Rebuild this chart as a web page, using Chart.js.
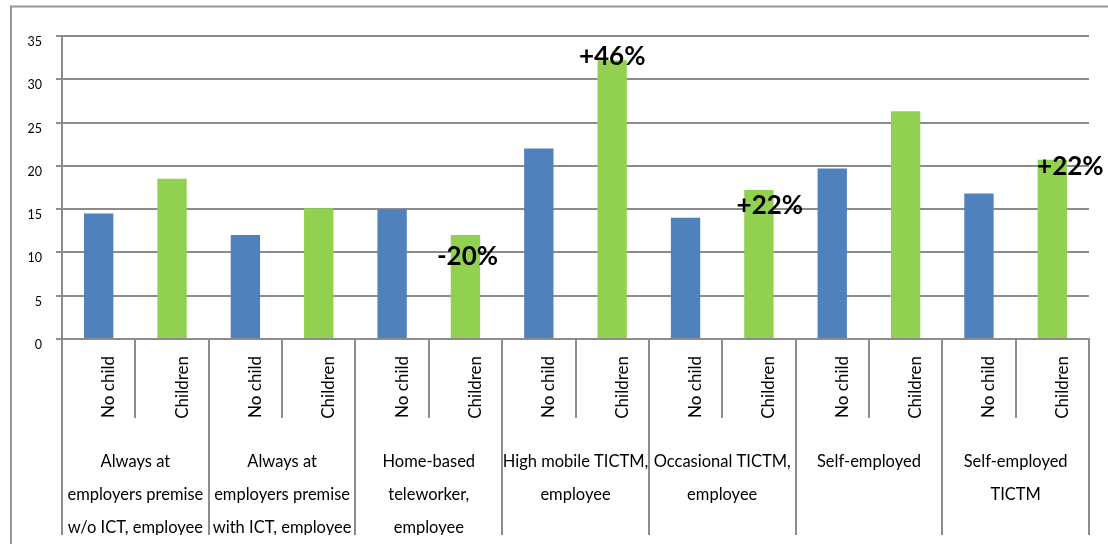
<!DOCTYPE html>
<html>
<head>
<meta charset="utf-8">
<script src="https://cdn.jsdelivr.net/npm/chart.js@4.4.1/dist/chart.umd.min.js"></script>
<style>
    html, body { margin: 0; padding: 0; background: #fff; }
    #chartContainer { width: 1108px; height: 544px; position: relative; }
</style>
</head>
<body>
<div id="chartContainer"><canvas id="myChart"></canvas></div>
<script>
// worker types, two bars each
const groupLabels = [
    ['Always at', 'employers premise', 'w/o ICT, employee'],
    ['Always at', 'employers premise', 'with ICT, employee'],
    ['Home-based', 'teleworker,', 'employee'],
    ['High mobile TICTM,', 'employee'],
    ['Occasional TICTM,', 'employee'],
    ['Self-employed'],
    ['Self-employed', 'TICTM']
];
const subLabels = [
    'No child', 'Children', 'No child', 'Children', 'No child', 'Children', 'No child',
    'Children', 'No child', 'Children', 'No child', 'Children', 'No child', 'Children'
];
const values = [14.5, 18.5, 12.0, 15.1, 15.0, 12.0, 22.0, 32.2, 14.0, 17.2, 19.7, 26.3, 16.8, 20.7];
const changeLabels = ['', '', '', '', '', '-20%', '', '+46%', '', '+22%', '', '', '', '+22%'];
const yTicks = [0, 5, 10, 15, 20, 25, 30, 35];

const blue = '#4f81bd';
const green = '#92d050';
const lineGrey = '#8c8c8c';
const fontFamily = 'Lato, "Open Sans", sans-serif';

// where each change label sits relative to the top of its bar
const labelShift = {
    5: [2, 21],
    7: [0, -4],
    9: [11, 16],
    13: [18, 7]
};

const outerFrame = {
    id: 'outerFrame',
    beforeDraw(chart) {
        const c = chart.ctx;
        c.save();
        c.strokeStyle = '#979797';
        c.lineWidth = 2;
        c.strokeRect(11, 6.5, chart.width + 20, chart.height + 20);
        c.restore();
    }
};

const changeText = {
    id: 'changeText',
    afterDatasetsDraw(chart) {
        const c = chart.ctx;
        const bars = chart.getDatasetMeta(0).data;
        c.save();
        c.font = 'bold 26px ' + fontFamily;
        c.fillStyle = '#000';
        c.textAlign = 'center';
        c.textBaseline = 'middle';
        changeLabels.forEach((txt, i) => {
            if (!txt) return;
            const shift = labelShift[i] || [0, 0];
            c.fillText(txt, bars[i].x + shift[0], bars[i].y + shift[1]);
        });
        c.restore();
    }
};

let myChart = null;

function createChart() {
    if (myChart !== null) {
        myChart.destroy();
    }

    const ctx = document.getElementById('myChart').getContext('2d');
    myChart = new Chart(ctx, {
        type: 'bar',
        data: {
            labels: subLabels,
            datasets: [{
                data: values,
                backgroundColor: values.map((v, i) => i % 2 === 0 ? blue : green),
                borderWidth: 0,
                barPercentage: 0.4,
                categoryPercentage: 1.0
            }]
        },
        options: {
            maintainAspectRatio: false,
            responsive: true,
            animation: false,
            devicePixelRatio: 1,
            layout: {
                padding: { left: 0, top: 36, right: 19, bottom: 9 }
            },
            plugins: {
                legend: { display: false },
                tooltip: { enabled: false }
            },
            scales: {
                y: {
                    min: 0,
                    max: 35,
                    afterBuildTicks: (scale) => {
                        scale.ticks = yTicks.map(v => ({ value: v }));
                    },
                    afterFit: (scale) => { scale.width = 62; },
                    grid: {
                        color: lineGrey,
                        lineWidth: 2,
                        tickLength: 6
                    },
                    border: { color: lineGrey, width: 2 },
                    ticks: {
                        color: '#000',
                        padding: 14,
                        labelOffset: 6,
                        font: { family: fontFamily, size: 12.5 }
                    }
                },
                x: {
                    weight: 0,
                    afterFit: (scale) => { scale.height = 79; },
                    grid: {
                        offset: true,
                        drawOnChartArea: false,
                        tickLength: 79,
                        color: lineGrey,
                        lineWidth: 2
                    },
                    border: { color: lineGrey, width: 2 },
                    ticks: {
                        autoSkip: false,
                        minRotation: 90,
                        maxRotation: 90,
                        padding: -62,
                        labelOffset: 10,
                        color: '#000',
                        font: { family: fontFamily, size: 17 }
                    }
                },
                x2: {
                    type: 'category',
                    labels: groupLabels,
                    position: 'bottom',
                    offset: true,
                    weight: 1,
                    afterFit: (scale) => { scale.height = 117; },
                    grid: {
                        offset: true,
                        drawOnChartArea: false,
                        tickLength: 117,
                        color: lineGrey,
                        lineWidth: 2
                    },
                    border: { display: false },
                    ticks: {
                        autoSkip: false,
                        minRotation: 0,
                        maxRotation: 0,
                        padding: -90,
                        color: '#000',
                        font: { family: fontFamily, size: 16.5, lineHeight: '33px' }
                    }
                }
            }
        },
        plugins: [outerFrame, changeText]
    });
}

createChart();
</script>
</body>
</html>
